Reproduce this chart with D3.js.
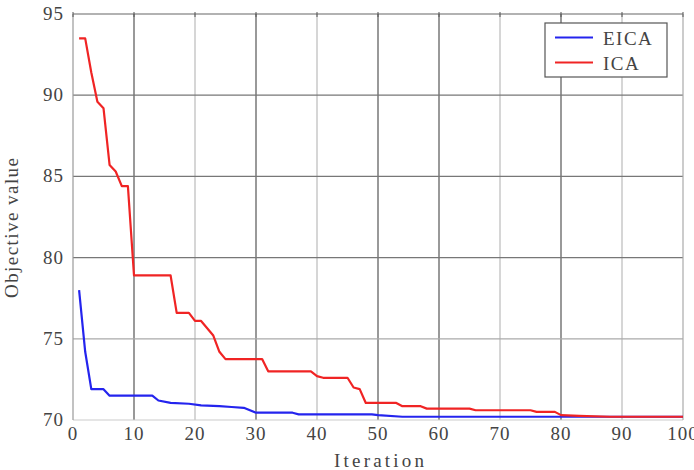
<!DOCTYPE html>
<html>
<head>
<meta charset="utf-8">
<script src="https://cdn.jsdelivr.net/npm/d3@7"></script>
<style>
  html, body { margin: 0; padding: 0; background: #fff; }
</style>
</head>
<body>
<div id="chart"></div>
<script>
// 데이터: 그림에서 읽은 꺾이는 지점들 (반복 횟수, 목적함수 값)
const eicaIter  = [1, 2, 3, 5, 6, 13, 14, 16, 19, 21, 24, 26, 28, 30, 36, 37, 49, 50, 54, 100];
const eicaValue = [78.0, 74.2, 71.9, 71.9, 71.5, 71.5, 71.2, 71.05, 71.0, 70.9, 70.85, 70.8, 70.75, 70.45, 70.45, 70.35, 70.35, 70.3, 70.2, 70.2];

const icaIter  = [1, 2, 3, 4, 5, 6, 7, 8, 9, 10, 16, 17, 19, 20, 21, 23, 24, 25, 31, 32, 39, 40, 41, 45, 46, 47, 48, 53, 54, 57, 58, 65, 66, 75, 76, 79, 80, 83, 88, 100];
const icaValue = [93.5, 93.5, 91.4, 89.6, 89.2, 85.7, 85.3, 84.4, 84.4, 78.9, 78.9, 76.6, 76.6, 76.1, 76.1, 75.2, 74.2, 73.75, 73.75, 73.0, 73.0, 72.7, 72.6, 72.6, 72.0, 71.9, 71.05, 71.05, 70.85, 70.85, 70.7, 70.7, 70.6, 70.6, 70.5, 70.5, 70.3, 70.25, 70.2, 70.2];

const xTicks = [0, 10, 20, 30, 40, 50, 60, 70, 80, 90, 100];
const yTicks = [70, 75, 80, 85, 90, 95];

// 그리드 선 진하기 (원본 이미지에서 진한 선 / 옅은 선)
const darkX = [10, 30, 50, 60, 80];
const darkY = [80, 85, 90];

const legendNames = ['EICA', 'ICA'];
const legendColors = ['#2424ee', '#f02424'];

const width = 694, height = 470;
const plot = { left: 73, right: 683, top: 14, bottom: 420 };

const svg = d3.select('#chart').append('svg')
    .attr('width', width)
    .attr('height', height)
    .attr('font-family', '"Liberation Serif", "DejaVu Serif", serif');

const x = d3.scaleLinear().domain([0, 100]).range([plot.left, plot.right]);
const y = d3.scaleLinear().domain([70, 95]).range([plot.bottom, plot.top]);

// 그리드
const grid = svg.append('g');
grid.selectAll('line.vx')
    .data(xTicks.slice(1, -1))
    .enter().append('line')
    .attr('x1', d => x(d)).attr('x2', d => x(d))
    .attr('y1', plot.top).attr('y2', plot.bottom)
    .attr('stroke', d => darkX.includes(d) ? '#555' : '#bbb')
    .attr('stroke-width', 1.2);

grid.selectAll('line.hy')
    .data(yTicks.slice(1, -1))
    .enter().append('line')
    .attr('x1', plot.left).attr('x2', plot.right)
    .attr('y1', d => y(d)).attr('y2', d => y(d))
    .attr('stroke', d => darkY.includes(d) ? '#777' : '#aaa')
    .attr('stroke-width', 1.2);

// 테두리
svg.append('line').attr('x1', plot.left).attr('x2', plot.right)
    .attr('y1', plot.top).attr('y2', plot.top)
    .attr('stroke', '#666').attr('stroke-width', 1.2);
svg.append('line').attr('x1', plot.left).attr('x2', plot.right)
    .attr('y1', plot.bottom).attr('y2', plot.bottom)
    .attr('stroke', '#ccc').attr('stroke-width', 1.2);
svg.append('line').attr('x1', plot.left).attr('x2', plot.left)
    .attr('y1', plot.top).attr('y2', plot.bottom)
    .attr('stroke', '#999').attr('stroke-width', 1.2);
svg.append('line').attr('x1', plot.right).attr('x2', plot.right)
    .attr('y1', plot.top).attr('y2', plot.bottom)
    .attr('stroke', '#aaa').attr('stroke-width', 1.2);

// 위쪽 작은 눈금
svg.selectAll('line.topTick')
    .data(xTicks)
    .enter().append('line')
    .attr('x1', d => x(d)).attr('x2', d => x(d))
    .attr('y1', plot.top - 2).attr('y2', plot.top + 3)
    .attr('stroke', '#555');

// 축 라벨 (100은 원본처럼 오른쪽 끝에서 잘림)
svg.selectAll('text.xt')
    .data(xTicks)
    .enter().append('text')
    .attr('x', d => x(d))
    .attr('y', 440)
    .attr('text-anchor', 'middle')
    .attr('font-size', '19px')
    .attr('letter-spacing', '1px')
    .attr('fill', '#444')
    .text(d => d);

svg.selectAll('text.yt')
    .data(yTicks)
    .enter().append('text')
    .attr('x', 64)
    .attr('y', d => y(d) + 6)
    .attr('text-anchor', 'end')
    .attr('font-size', '19px')
    .attr('letter-spacing', '1px')
    .attr('fill', '#444')
    .text(d => d);

svg.append('text')
    .attr('x', 379).attr('y', 467)
    .attr('text-anchor', 'middle')
    .attr('font-size', '19px')
    .attr('textLength', 90)
    .attr('fill', '#444')
    .text('Iteration');

svg.append('text')
    .attr('transform', 'translate(18,228) rotate(-90)')
    .attr('text-anchor', 'middle')
    .attr('font-size', '19px')
    .attr('textLength', 140)
    .attr('fill', '#444')
    .text('Objective value');

// 곡선
const line = d3.line().x(d => x(d[0])).y(d => y(d[1]));
const series = [
    d3.zip(eicaIter, eicaValue),
    d3.zip(icaIter, icaValue)
];

svg.selectAll('path.series')
    .data(series)
    .enter().append('path')
    .attr('d', line)
    .attr('fill', 'none')
    .attr('stroke', (d, i) => legendColors[i])
    .attr('stroke-width', 2.2)
    .attr('stroke-linejoin', 'round');

// 범례
const lg = svg.append('g');
lg.append('rect')
    .attr('x', 545).attr('y', 23)
    .attr('width', 122).attr('height', 54)
    .attr('fill', '#fff')
    .attr('stroke', '#555')
    .attr('stroke-width', 1.2);

legendNames.forEach((name, i) => {
    const yy = 37.5 + i * 25;
    lg.append('line')
        .attr('x1', 555).attr('x2', 593)
        .attr('y1', yy).attr('y2', yy)
        .attr('stroke', legendColors[i])
        .attr('stroke-width', 2.2);
    lg.append('text')
        .attr('x', 603).attr('y', yy + 7)
        .attr('font-size', '19px')
        .attr('letter-spacing', '1.5px')
        .attr('fill', '#444')
        .text(name);
});
</script>
</body>
</html>
